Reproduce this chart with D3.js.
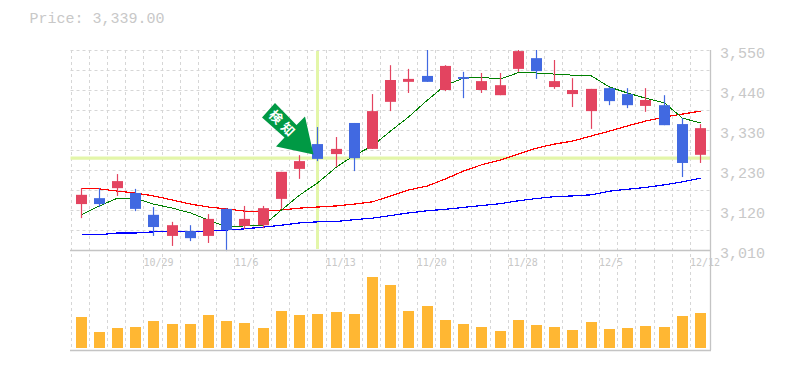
<!DOCTYPE html>
<html>
<head>
<meta charset="utf-8">
<script src="https://cdnjs.cloudflare.com/ajax/libs/d3/7.8.5/d3.min.js"></script>
<style>
  html, body { margin: 0; padding: 0; background: #fff; }
  svg { display: block; }
  text { fill: #c8c8c8; }
</style>
</head>
<body>
<svg id="chart" width="785" height="370"></svg>
<script>
// trading days, oldest first
const dates = ["10/23","10/24","10/25","10/26","10/29","10/30","10/31","11/1","11/5","11/6",
  "11/7","11/8","11/9","11/12","11/13","11/14","11/15","11/16","11/19","11/20",
  "11/21","11/22","11/26","11/27","11/28","11/29","11/30","12/3","12/4","12/5",
  "12/6","12/7","12/10","12/11","12/12"];

const opens  = [3134,3150,3177,3164,3105,3048,3061,3048,3121,3075,3077,3148,3229,3296,3269,3353,3283,3410,
  3464,3480,3442,3477,3442,3428,3499,3528,3450,3431,3385,3447,3431,3399,3401,3350,3267];
const highs  = [3177,3177,3215,3175,3126,3086,3077,3107,3123,3129,3129,3221,3266,3342,3315,3353,3431,3509,
  3499,3550,3509,3491,3488,3488,3550,3550,3523,3474,3445,3450,3447,3447,3428,3366,3350];
const lows   = [3096,3126,3156,3115,3048,3021,3034,3029,3007,3067,3069,3121,3202,3250,3234,3223,3283,3385,
  3434,3464,3439,3420,3434,3428,3491,3472,3445,3396,3337,3401,3393,3383,3347,3207,3245];
const closes = [3159,3134,3196,3121,3072,3077,3042,3094,3064,3094,3123,3221,3250,3256,3283,3258,3385,3469,
  3472,3464,3507,3472,3466,3455,3547,3493,3466,3442,3445,3412,3401,3415,3347,3245,3339];

// moving averages
const maShort = [3105,3129,3150,3150,3134,3123,3110,3091,3072,3075,3077,3118,3158,3191,3234,3266,3291,3331,
  3369,3415,3455,3474,3476,3472,3489,3488,3485,3482,3480,3450,3434,3420,3407,3366,3353];
const maMid = [3177,3175,3169,3164,3156,3145,3134,3126,3121,3115,3115,3118,3123,3126,3129,3134,3140,3156,
  3172,3183,3202,3223,3240,3253,3269,3285,3296,3304,3318,3331,3345,3358,3369,3377,3385];
const maLong = [3051,3051,3056,3056,3059,3059,3061,3061,3064,3067,3072,3077,3083,3086,3087,3092,3096,3103,
  3110,3116,3120,3125,3130,3135,3143,3149,3154,3156,3159,3169,3174,3179,3186,3194,3204];

const volumes = [31,16,20,21,27,24,24,33,27,25,20,37,33,34,36,34,71,63,
  37,42,28,24,21,17,28,23,21,18,26,19,20,22,21,32,35];

const priceTicks = [3550,3442,3334,3226,3118,3010];
const dateTicks = ["10/29","11/6","11/13","11/20","11/28","12/5","12/12"];
const gridPrices = d3.range(3010, 3551, 54);
const signalDay = "11/12", signalPrice = 3258;
const currentPrice = "Price: 3,339.00";

const plotLeft = 70.5, plotRight = 710, plotTop = 50, plotMid = 250, plotBottom = 350;
const step = 18.22;

const svg = d3.select("#chart");

const x = d3.scaleBand().domain(dates).range([plotLeft, plotLeft + step * dates.length]);
const cx = d => Math.round(x(d) + 10) + 0.5;
const y = d3.scaleLinear().domain([3010, 3550]).range([plotMid, plotTop]);
const yVol = d3.scaleLinear().domain([0, 100]).range([348, 248]);

// grid
svg.append("g").selectAll("line").data(dates).join("line")
  .attr("x1", d => Math.round(x(d)) + 0.5).attr("x2", d => Math.round(x(d)) + 0.5)
  .attr("y1", plotTop).attr("y2", plotBottom)
  .attr("stroke", "#d6d6d6").attr("stroke-dasharray", "3,3");
svg.append("g").selectAll("line").data(gridPrices).join("line")
  .attr("x1", plotLeft).attr("x2", plotRight)
  .attr("y1", d => Math.round(y(d)) + 0.5).attr("y2", d => Math.round(y(d)) + 0.5)
  .attr("stroke", "#d6d6d6").attr("stroke-dasharray", "3,3");

// highlight cross
svg.append("line").attr("x1", plotLeft).attr("x2", plotRight)
  .attr("y1", y(signalPrice)).attr("y2", y(signalPrice))
  .attr("stroke", "#e3f6a9").attr("stroke-width", 3.4);
svg.append("line").attr("x1", cx(signalDay)).attr("x2", cx(signalDay))
  .attr("y1", plotTop + 1).attr("y2", plotMid - 1)
  .attr("stroke", "#e3f6a9").attr("stroke-width", 3);

// moving averages, aliased like the original
function maLine(values, color, width) {
  const line = d3.line().x((v, i) => cx(dates[i])).y(v => y(v));
  svg.append("path").attr("d", line(values)).attr("fill", "none")
    .attr("stroke", color).attr("stroke-width", width)
    .attr("shape-rendering", "crispEdges");
}
maLine(maLong, "#0000ff", 1.2);
maLine(maMid, "#ff0000", 1.2);
maLine(maShort, "#008000", 1);

// candles
const upColor = "#e34460", downColor = "#4169e1";
const candles = dates.map((d, i) => ({d: d, o: opens[i], h: highs[i], l: lows[i], c: closes[i]}));
const candleG = svg.append("g").selectAll("g").data(candles).join("g");
candleG.append("line")
  .attr("x1", d => cx(d.d)).attr("x2", d => cx(d.d))
  .attr("y1", d => y(d.h)).attr("y2", d => y(d.l))
  .attr("stroke", d => d.c >= d.o ? upColor : downColor).attr("stroke-width", 1.2);
candleG.append("rect")
  .attr("x", d => cx(d.d) - 5.5).attr("width", 11)
  .attr("y", d => y(Math.max(d.o, d.c)))
  .attr("height", d => Math.abs(y(d.o) - y(d.c)))
  .attr("fill", d => d.c >= d.o ? upColor : downColor);

// volume
svg.append("g").selectAll("rect").data(volumes).join("rect")
  .attr("x", (v, i) => cx(dates[i]) - 5.5).attr("width", 11)
  .attr("y", v => yVol(v)).attr("height", v => yVol(0) - yVol(v))
  .attr("fill", "#ffb733");

// frame
const frame = "#c4c4c4";
svg.append("line").attr("x1", plotLeft - 0.5).attr("x2", plotRight + 1).attr("y1", plotMid + 0.5).attr("y2", plotMid + 0.5).attr("stroke", frame).attr("stroke-width", 1.3);
svg.append("line").attr("x1", plotLeft - 0.5).attr("x2", plotRight + 1).attr("y1", plotBottom + 0.5).attr("y2", plotBottom + 0.5).attr("stroke", frame).attr("stroke-width", 1.3);
svg.append("line").attr("x1", plotRight + 0.5).attr("x2", plotRight + 0.5).attr("y1", plotTop).attr("y2", plotBottom).attr("stroke", frame).attr("stroke-width", 1.3);

// price axis
const priceAxis = d3.axisRight(y).tickValues(priceTicks).tickSize(0).tickPadding(10)
  .tickFormat(v => d3.format(",")(Math.round(v / 10) * 10));
const pa = svg.append("g").attr("transform", "translate(" + plotRight + ",0)").call(priceAxis);
pa.select(".domain").remove();
pa.selectAll("text").attr("y", 0).attr("dy", 8)
  .attr("font-family", "'Liberation Mono'").attr("font-size", 15);
pa.selectAll(".tick").attr("transform", d => "translate(0," + (y(d) - 0.5) + ")");

// date axis, labels start at the grid line
const dateAxis = d3.axisBottom(x).tickValues(dateTicks).tickSize(0).tickPadding(0);
const da = svg.append("g").attr("transform", "translate(0," + (plotMid + 1) + ")").call(dateAxis);
da.select(".domain").remove();
da.selectAll("text").attr("text-anchor", "start").attr("x", -x.bandwidth() / 2).attr("y", 0).attr("dy", 15)
  .attr("font-family", "'DejaVu Sans Mono'").attr("font-size", 10);

// current price
svg.append("text").attr("x", 29.5).attr("y", 23)
  .attr("font-family", "'Liberation Mono'").attr("font-size", 15)
  .text(currentPrice);

// signal arrow
const arrow = [[275,103],[296.5,125],[305,116.5],[313.5,154.5],[276,146.5],[284.5,137.5],[262,117.5]];
svg.append("polygon").attr("points", arrow.join(" ")).attr("fill", "#009944");
svg.append("text").attr("transform", "translate(284,124) rotate(45)")
  .attr("text-anchor", "middle").attr("dominant-baseline", "central")
  .attr("font-family", "'Noto Sans CJK JP'").attr("font-size", 13).attr("font-weight", 700)
  .attr("letter-spacing", 4)
  .style("fill", "#fff").text("検知");
</script>
</body>
</html>
